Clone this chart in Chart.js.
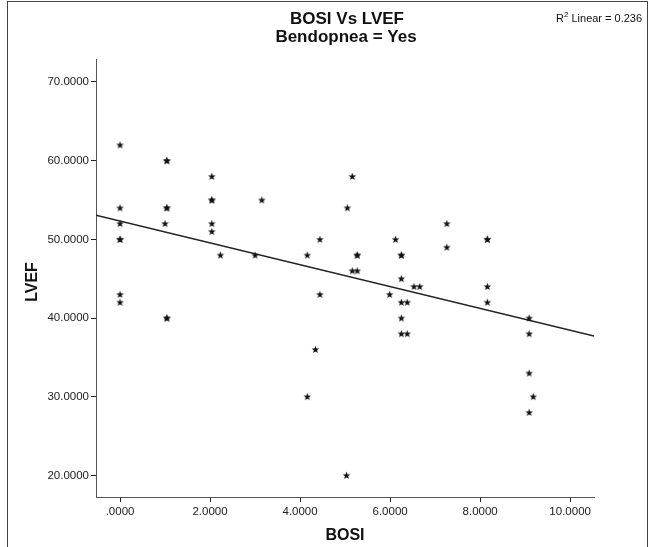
<!DOCTYPE html>
<html>
<head>
<meta charset="utf-8">
<script src="https://cdn.jsdelivr.net/npm/chart.js@4/dist/chart.umd.min.js"></script>
<style>
html,body{margin:0;padding:0;background:#fff;}
#wrap{width:650px;height:547px;position:relative;}
</style>
</head>
<body>
<div id="wrap"><canvas id="c" width="650" height="547"></canvas></div>
<script>
// ---- data ----
const bosi = [0,0,0,0,0,0,0,
  1.04,1.04,1.04,1.04,1.0,1.04,1.04,
  2.04,2.04,2.04,2.04,2.04,2.23,
  3.0,3.15,
  4.16,4.16,4.34,4.44,4.44,
  5.05,5.03,5.16,5.16,5.27,5.27,5.27,
  5.99,6.12,6.25,6.25,6.25,6.25,6.25,6.25,6.38,6.38,6.53,6.66,
  7.26,7.26,
  8.16,8.16,8.16,8.16,
  9.09,9.09,9.09,9.18,9.09];
const lvef = [62,54,52,50,50,43,42,
  60,60,54,54,52,40,40,
  58,55,55,52,51,48,
  48,55,
  48,30,36,50,43,
  54,20,58,46,46,48,48,
  43,50,48,48,45,42,40,38,42,38,44,44,
  52,49,
  50,50,44,42,
  40,38,33,30,28];
const fitX = [-0.534, 10.53];
const fitY = [53.05, 37.7];
const xTicks = [0,2,4,6,8,10];
const xTickLabels = ['.0000','2.0000','4.0000','6.0000','8.0000','10.0000'];
const yTicks = [20,30,40,50,60,70];
const yTickLabels = ['20.0000','30.0000','40.0000','50.0000','60.0000','70.0000'];
const titleLines = ['BOSI Vs LVEF','Bendopnea = Yes'];
const xTitle = 'BOSI';
const yTitle = 'LVEF';
const r2Text = 'Linear = 0.236';

// ---- star marker ----
function makeStar(){
  const s = document.createElement('canvas');
  s.width = 9; s.height = 9;
  const g = s.getContext('2d');
  g.fillStyle = '#111';
  g.beginPath();
  const cx = 4.5, cy = 4.8, R = 4.0, r = 1.7;
  for (let i = 0; i < 10; i++){
    const a = -Math.PI/2 + i*Math.PI/5;
    const rad = i%2===0 ? R : r;
    const px = cx + rad*Math.cos(a), py = cy + rad*Math.sin(a);
    if (i===0) g.moveTo(px,py); else g.lineTo(px,py);
  }
  g.closePath();
  g.fill();
  return s;
}
const star = makeStar();

const points = bosi.map((x,i)=>({x:x,y:lvef[i]}));
const fitLine = fitX.map((x,i)=>({x:x,y:fitY[i]}));

const FONT = '"Liberation Sans", Arial, sans-serif';

const decor = {
  id:'decor',
  afterDraw(chart){
    const ctx = chart.ctx;
    ctx.save();
    // outer frame
    ctx.strokeStyle = '#444';
    ctx.lineWidth = 1;
    ctx.strokeRect(7.5, 1.5, 640, 600);
    ctx.fillStyle = '#111';
    ctx.textAlign = 'center';
    ctx.textBaseline = 'middle';
    ctx.font = 'bold 17px ' + FONT;
    ctx.fillText(titleLines[0], 347, 19);
    ctx.fillText(titleLines[1], 346, 37);
    // axis titles
    ctx.font = 'bold 16px ' + FONT;
    ctx.fillText(xTitle, 345, 536);
    ctx.save();
    ctx.translate(33, 282);
    ctx.rotate(-Math.PI/2);
    ctx.fillText(yTitle, 0, 0);
    ctx.restore();
    // R^2 text
    ctx.textAlign = 'left';
    ctx.font = '11px ' + FONT;
    let x0 = 556;
    ctx.fillText('R', x0, 19);
    const wR = ctx.measureText('R').width;
    ctx.font = '8px ' + FONT;
    ctx.fillText('2', x0 + wR, 15);
    const w2 = ctx.measureText('2').width;
    ctx.font = '11px ' + FONT;
    ctx.fillText(' ' + r2Text, x0 + wR + w2, 19);
    ctx.restore();
  }
};

new Chart(document.getElementById('c'), {
  type:'scatter',
  data:{
    datasets:[
      {type:'line', data:fitLine, borderColor:'#222', borderWidth:1.5, pointRadius:0, fill:false, order:2},
      {type:'scatter', data:points, pointStyle:star, pointRadius:4, order:1}
    ]
  },
  options:{
    responsive:false,
    animation:false,
    devicePixelRatio:1,
    layout:{padding:{left:0, right:56, top:59, bottom:0}},
    plugins:{legend:{display:false}, tooltip:{enabled:false}, title:{display:false}},
    scales:{
      x:{
        type:'linear', min:-0.534, max:10.53,
        afterFit(s){ s.height = 50; },
        afterBuildTicks(s){ s.ticks = xTicks.map(v=>({value:v})); },
        grid:{drawOnChartArea:false, drawTicks:true, tickLength:5, color:'#222', lineWidth:1},
        border:{display:true, color:'#555', width:1},
        ticks:{
          color:'#222', font:{family:FONT, size:11.5}, padding:3, maxRotation:0, autoSkip:false,
          callback:(v)=>{ const i = xTicks.indexOf(v); return i>=0 ? xTickLabels[i] : ''; }
        }
      },
      y:{
        type:'linear', min:17.25, max:72.92,
        afterFit(s){ s.width = 96; },
        afterBuildTicks(s){ s.ticks = yTicks.map(v=>({value:v})); },
        grid:{drawOnChartArea:false, drawTicks:true, tickLength:5, color:'#222', lineWidth:1},
        border:{display:true, color:'#555', width:1},
        ticks:{
          color:'#222', font:{family:FONT, size:11.5}, padding:2, autoSkip:false,
          callback:(v)=>{ const i = yTicks.indexOf(v); return i>=0 ? yTickLabels[i] : ''; }
        }
      }
    }
  },
  plugins:[decor]
});
</script>
</body>
</html>
